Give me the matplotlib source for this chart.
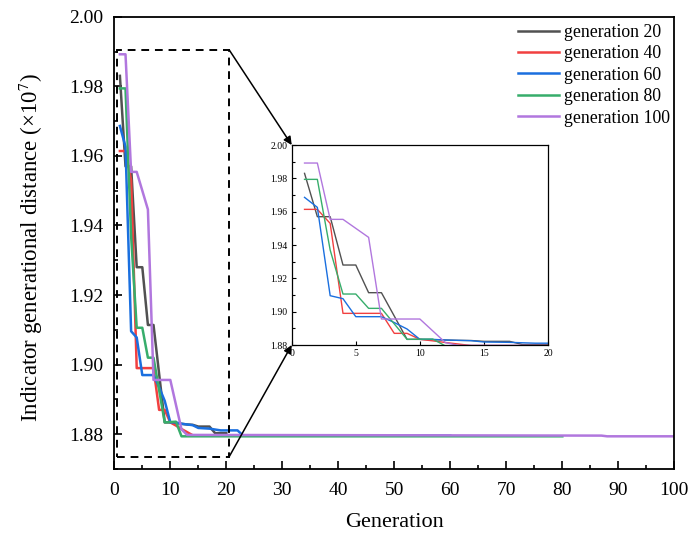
import matplotlib
matplotlib.use("Agg")
from matplotlib import pyplot as plt
from matplotlib.patches import Rectangle, ConnectionPatch
from matplotlib.ticker import MultipleLocator, FormatStrFormatter

plt.rcParams['font.family'] = ['Liberation Serif', 'DejaVu Serif']
plt.rcParams['mathtext.fontset'] = 'stix'

# knots (generation, indicator value); lines are straight between them
gen_20 = [1, 2, 3, 4, 5, 6, 7, 9, 10, 11, 12, 13, 14, 15, 17, 18, 20]
igd_20 = [1.9830, 1.9570, 1.9570, 1.9280, 1.9280, 1.9114, 1.9114, 1.8834, 1.8834,
          1.8832, 1.8830, 1.8828, 1.8827, 1.8822, 1.8822, 1.8803, 1.8803]

gen_40 = [1, 2, 3, 4, 7, 8, 9, 10, 11, 12, 13, 14, 40]
igd_40 = [1.9614, 1.9614, 1.9530, 1.8990, 1.8990, 1.8870, 1.8870, 1.8834, 1.8825,
          1.8815, 1.8806, 1.8797, 1.8796]

gen_60 = [1, 2, 3, 4, 5, 7, 8, 9, 10, 11, 12, 14, 15, 17, 19, 22, 23, 60]
igd_60 = [1.9686, 1.9626, 1.9096, 1.9078, 1.8970, 1.8970, 1.8935, 1.8896, 1.8834,
          1.8834, 1.8830, 1.8826, 1.8818, 1.8816, 1.8811, 1.8811, 1.8796, 1.8796]

gen_80 = [1, 2, 3, 4, 5, 6, 7, 9, 11, 12, 80]
igd_80 = [1.9794, 1.9794, 1.9370, 1.9106, 1.9106, 1.9020, 1.9020, 1.8834, 1.8836,
          1.8794, 1.8794]

gen_100 = [1, 2, 3, 4, 6, 7, 10, 12, 13, 87, 88, 100]
igd_100 = [1.9892, 1.9892, 1.9554, 1.9554, 1.9446, 1.8956, 1.8956, 1.8814, 1.8798,
           1.8796, 1.8794, 1.8794]

series = [
    (gen_20, igd_20, '#515151', 'generation 20'),
    (gen_40, igd_40, '#F14040', 'generation 40'),
    (gen_60, igd_60, '#1A6FDF', 'generation 60'),
    (gen_80, igd_80, '#37AD6B', 'generation 80'),
    (gen_100, igd_100, '#B177DE', 'generation 100'),
]

fig = plt.figure(figsize=(6.89, 5.34), dpi=100)
ax = fig.add_axes([0.1659, 0.1217, 0.8128, 0.8470])

for g, v, c, lab in series:
    ax.plot(g, v, color=c, lw=1.8, label=lab)

ax.set_xlim(0, 100)
ax.set_ylim(1.870, 2.00)
ax.xaxis.set_major_locator(MultipleLocator(10))
ax.xaxis.set_minor_locator(MultipleLocator(5))
ax.yaxis.set_major_locator(MultipleLocator(0.02))
ax.yaxis.set_minor_locator(MultipleLocator(0.01))
ax.yaxis.set_major_formatter(FormatStrFormatter('%.2f'))
ax.tick_params(which='both', direction='in', labelsize=14, width=1.2)
ax.tick_params(which='major', length=6)
ax.tick_params(which='minor', length=3)
ax.tick_params(axis='x', which='major', pad=9)
ax.tick_params(axis='y', which='major', pad=8)
for s in ax.spines.values():
    s.set_linewidth(1.3)

ax.set_xlabel('Generation', fontsize=16)
ax.set_ylabel('Indicator generational distance (×10$^{7}$)', fontsize=16.5)
ax.xaxis.set_label_coords(0.5, -0.097)
ax.yaxis.set_label_coords(-0.124, 0.49)

ax.legend(loc='upper right', bbox_to_anchor=(1.005, 1.0), frameon=False, fontsize=12.8,
          labelspacing=0.25, handlelength=2.3, handletextpad=0.3,
          borderaxespad=0.2, borderpad=0.2)

# zoom box
box_x0, box_x1 = 0.5, 20.5
box_y0, box_y1 = 1.8735, 1.9905
ax.add_patch(Rectangle((box_x0, box_y0), box_x1 - box_x0, box_y1 - box_y0,
                       fill=False, ls=(0, (4, 3)), lw=1.4, ec='k', zorder=5))

# inset
axin = fig.add_axes([0.4234, 0.3539, 0.372, 0.3745])
for g, v, c, lab in series:
    axin.plot(g, v, color=c, lw=1.0)
axin.set_xlim(0, 20)
axin.set_ylim(1.88, 2.00)
axin.xaxis.set_major_locator(MultipleLocator(5))
axin.yaxis.set_major_locator(MultipleLocator(0.02))
axin.yaxis.set_minor_locator(MultipleLocator(0.01))
axin.yaxis.set_major_formatter(FormatStrFormatter('%.2f'))
axin.tick_params(which='both', direction='in', labelsize=7, width=0.8, pad=3)
axin.tick_params(which='major', length=3)
axin.tick_params(which='minor', length=2)
for s in axin.spines.values():
    s.set_linewidth(0.9)

for ybox, yin in [(box_y1, 1), (box_y0, 0)]:
    con = ConnectionPatch(xyA=(box_x1, ybox), coordsA=ax.transData,
                          xyB=(0, yin), coordsB=axin.transAxes,
                          arrowstyle='-|>', mutation_scale=12, lw=1.1, color='k')
    fig.add_artist(con)

fig.savefig('out.png', dpi=100)
